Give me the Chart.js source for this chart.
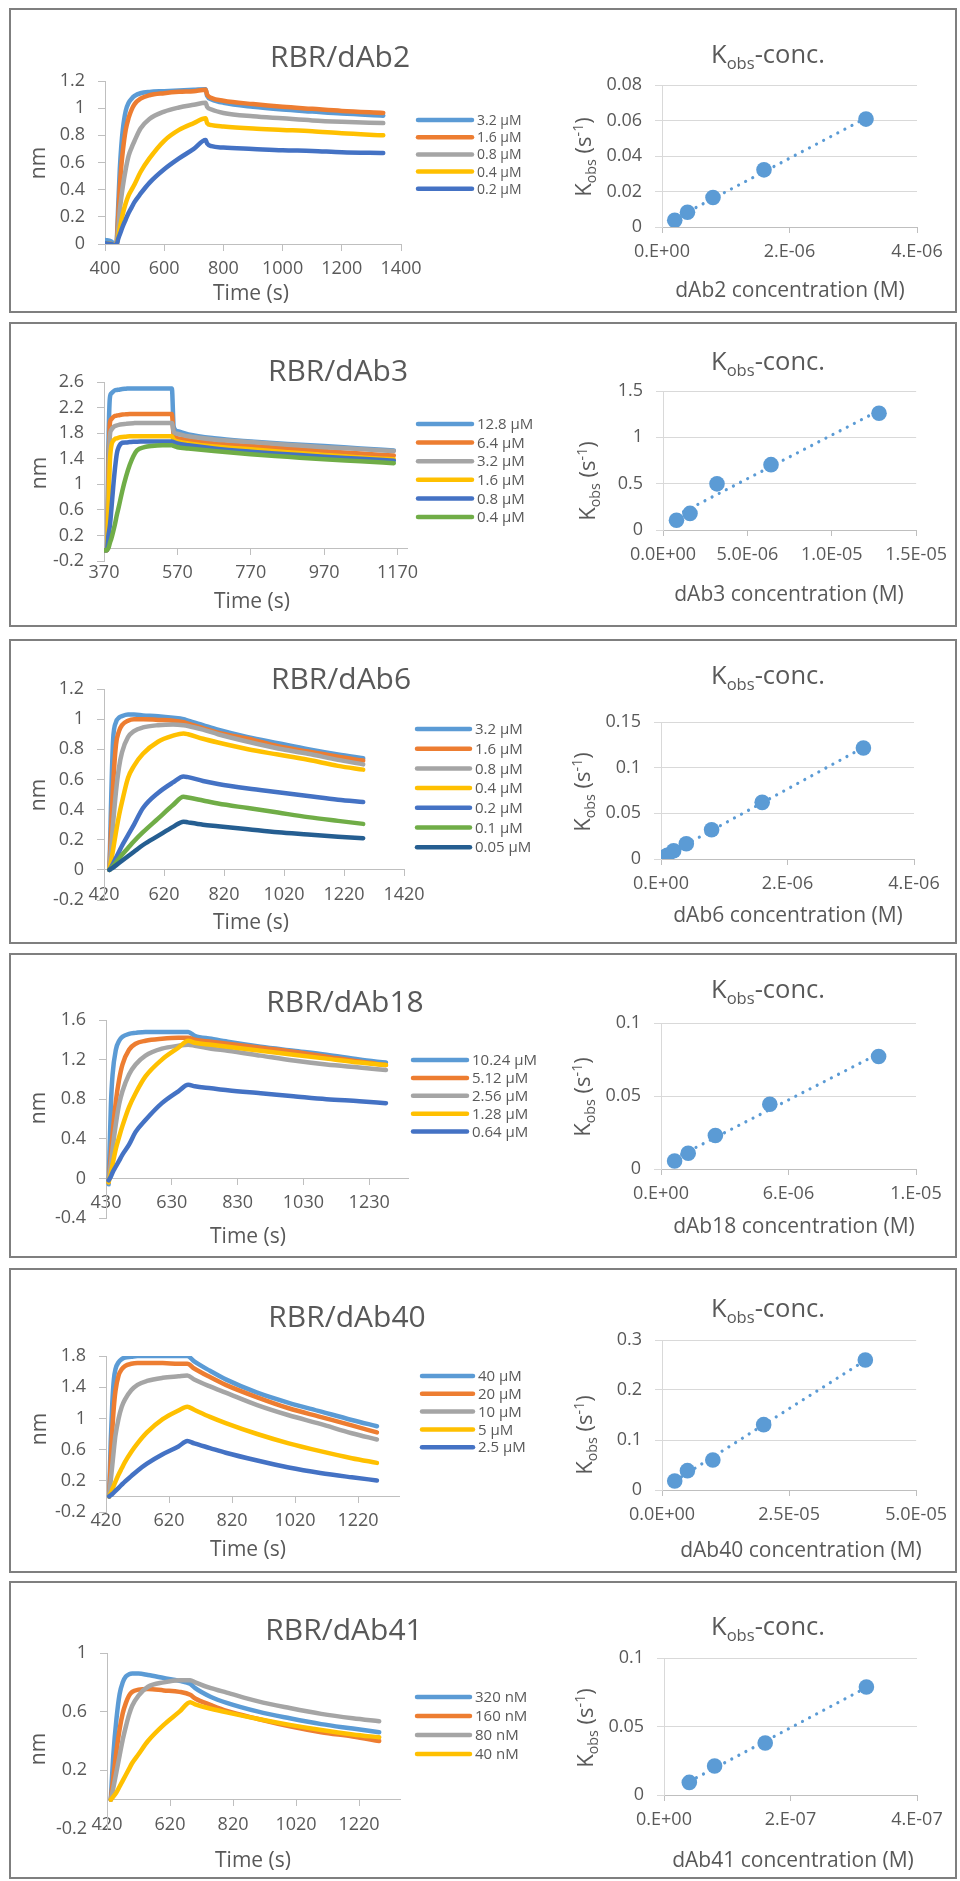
<!DOCTYPE html>
<html>
<head>
<meta charset="utf-8">
<script src="https://cdn.jsdelivr.net/npm/chart.js@4.4.1/dist/chart.umd.min.js"></script>
<style>
  body { margin: 0; background: #fff; }
  #fig { position: relative; width: 960px; height: 1881px; overflow: hidden; }
  .panel { position: absolute; left: 9px; width: 948px; border: 2px solid #7f7f7f; box-sizing: border-box; }
  canvas { position: absolute; }
</style>
</head>
<body>
<div id="fig"></div>
<script>
// ---- RBR/dAb2 ----
const dAb2Time = [400, 420, 438, 445, 450, 455, 460, 470, 480, 490, 500, 520, 550, 600, 650, 700, 740, 745, 760, 800, 900, 1000, 1100, 1200, 1340];
const dAb2_3p2 = [0.03, 0.02, -0.01, 0.3, 0.55, 0.72, 0.84, 0.98, 1.04, 1.07, 1.09, 1.11, 1.12, 1.125, 1.13, 1.135, 1.14, 1.09, 1.065, 1.04, 1.01, 0.99, 0.975, 0.96, 0.945];
const dAb2_1p6 = [0.005, 0, -0.01, 0.22, 0.42, 0.57, 0.68, 0.84, 0.93, 0.99, 1.03, 1.07, 1.095, 1.11, 1.12, 1.125, 1.135, 1.1, 1.075, 1.055, 1.03, 1.01, 0.995, 0.98, 0.965];
const dAb2_0p8 = [0.005, 0, -0.01, 0.12, 0.25, 0.34, 0.42, 0.55, 0.65, 0.71, 0.76, 0.85, 0.92, 0.975, 1.005, 1.025, 1.04, 1.01, 0.99, 0.965, 0.94, 0.925, 0.91, 0.9, 0.89];
const dAb2_0p4 = [0.005, 0, -0.01, 0.06, 0.12, 0.17, 0.22, 0.3, 0.36, 0.4, 0.44, 0.53, 0.63, 0.76, 0.84, 0.89, 0.925, 0.89, 0.875, 0.865, 0.85, 0.84, 0.83, 0.815, 0.8];
const dAb2_0p2 = [0.005, 0, -0.01, 0.04, 0.07, 0.1, 0.13, 0.18, 0.23, 0.27, 0.31, 0.37, 0.45, 0.55, 0.63, 0.7, 0.765, 0.74, 0.72, 0.71, 0.7, 0.69, 0.685, 0.675, 0.67];
const dAb2Labels = ['3.2 μM', '1.6 μM', '0.8 μM', '0.4 μM', '0.2 μM'];
const dAb2TimeTicks = [400, 600, 800, 1000, 1200, 1400];
const dAb2NmTicks = [0, 0.2, 0.4, 0.6, 0.8, 1, 1.2];
const dAb2Conc = [2e-7, 4e-7, 8e-7, 1.6e-6, 3.2e-6];
const dAb2Kobs = [0.0038, 0.0083, 0.0166, 0.0322, 0.0608];
const dAb2ConcTicks = [0, 2e-6, 4e-6];
const dAb2ConcLabels = ['0.E+00', '2.E-06', '4.E-06'];
const dAb2KobsTicks = [0, 0.02, 0.04, 0.06, 0.08];

// ---- RBR/dAb3 ----
const dAb3Time = [370, 378, 382, 386, 390, 395, 400, 405, 410, 420, 430, 440, 450, 460, 480, 500, 530, 555, 560, 570, 600, 670, 770, 870, 970, 1070, 1160];
const dAb3_12p8 = [-0.03, -0.03, 1.6, 2.35, 2.42, 2.45, 2.47, 2.475, 2.48, 2.49, 2.495, 2.5, 2.5, 2.5, 2.5, 2.5, 2.5, 2.5, 1.9, 1.83, 1.78, 1.72, 1.67, 1.63, 1.6, 1.56, 1.53];
const dAb3_6p4 = [-0.03, -0.03, 1.2, 1.95, 2.02, 2.05, 2.07, 2.075, 2.08, 2.09, 2.095, 2.1, 2.1, 2.1, 2.1, 2.1, 2.1, 2.1, 1.76, 1.72, 1.69, 1.64, 1.6, 1.56, 1.52, 1.48, 1.45];
const dAb3_3p2 = [-0.03, -0.03, 0.9, 1.75, 1.85, 1.89, 1.91, 1.92, 1.93, 1.94, 1.945, 1.95, 1.955, 1.96, 1.96, 1.96, 1.96, 1.96, 1.82, 1.79, 1.75, 1.7, 1.66, 1.62, 1.58, 1.55, 1.52];
const dAb3_1p6 = [-0.03, -0.03, 0.6, 1.35, 1.6, 1.68, 1.71, 1.72, 1.73, 1.74, 1.745, 1.75, 1.75, 1.75, 1.75, 1.75, 1.75, 1.75, 1.7, 1.67, 1.64, 1.59, 1.55, 1.5, 1.46, 1.42, 1.39];
const dAb3_0p8 = [-0.03, -0.03, 0.2, 0.35, 0.6, 0.95, 1.25, 1.48, 1.58, 1.65, 1.655, 1.66, 1.665, 1.665, 1.67, 1.67, 1.67, 1.67, 1.66, 1.64, 1.61, 1.56, 1.51, 1.47, 1.43, 1.4, 1.37];
const dAb3_0p4 = [-0.03, -0.03, 0, 0.08, 0.15, 0.26, 0.38, 0.52, 0.64, 0.9, 1.12, 1.3, 1.44, 1.53, 1.58, 1.6, 1.61, 1.61, 1.6, 1.58, 1.56, 1.52, 1.47, 1.43, 1.39, 1.36, 1.33];
const dAb3Labels = ['12.8 μM', '6.4 μM', '3.2 μM', '1.6 μM', '0.8 μM', '0.4 μM'];
const dAb3TimeTicks = [370, 570, 770, 970, 1170];
const dAb3NmTicks = [-0.2, 0.2, 0.6, 1, 1.4, 1.8, 2.2, 2.6];
const dAb3Conc = [8e-7, 1.6e-6, 3.2e-6, 6.4e-6, 1.28e-5];
const dAb3Kobs = [0.105, 0.179, 0.498, 0.705, 1.26];
const dAb3ConcTicks = [0, 5e-6, 1e-5, 1.5e-5];
const dAb3ConcLabels = ['0.0E+00', '5.0E-06', '1.0E-05', '1.5E-05'];
const dAb3KobsTicks = [0, 0.5, 1, 1.5];

// ---- RBR/dAb6 ----
const dAb6Time = [438, 450, 460, 470, 480, 500, 520, 550, 600, 650, 685, 700, 750, 800, 900, 1000, 1100, 1200, 1284];
const dAb6_3p2 = [0, 0.85, 0.98, 1.01, 1.02, 1.03, 1.03, 1.025, 1.02, 1.01, 1.0, 0.99, 0.96, 0.93, 0.88, 0.84, 0.8, 0.765, 0.74];
const dAb6_1p6 = [0, 0.55, 0.83, 0.92, 0.96, 0.99, 1.0, 1.0, 0.995, 0.99, 0.98, 0.97, 0.94, 0.91, 0.87, 0.82, 0.785, 0.75, 0.725];
const dAb6_0p8 = [0, 0.3, 0.52, 0.68, 0.78, 0.88, 0.92, 0.945, 0.96, 0.965, 0.96, 0.955, 0.93, 0.9, 0.85, 0.805, 0.77, 0.73, 0.7];
const dAb6_0p4 = [0, 0.13, 0.25, 0.36, 0.45, 0.61, 0.69, 0.77, 0.85, 0.89, 0.905, 0.9, 0.87, 0.845, 0.8, 0.765, 0.73, 0.69, 0.665];
const dAb6_0p2 = [0, 0.04, 0.08, 0.12, 0.16, 0.23, 0.3, 0.41, 0.51, 0.58, 0.62, 0.615, 0.59, 0.57, 0.54, 0.515, 0.49, 0.465, 0.45];
const dAb6_0p1 = [0, 0.025, 0.05, 0.075, 0.1, 0.145, 0.19, 0.25, 0.34, 0.43, 0.485, 0.48, 0.46, 0.44, 0.41, 0.38, 0.35, 0.325, 0.305];
const dAb6_0p05 = [0, 0.015, 0.03, 0.045, 0.06, 0.09, 0.12, 0.165, 0.225, 0.285, 0.32, 0.315, 0.3, 0.29, 0.27, 0.25, 0.235, 0.22, 0.21];
const dAb6Labels = ['3.2 μM', '1.6 μM', '0.8 μM', '0.4 μM', '0.2 μM', '0.1 μM', '0.05 μM'];
const dAb6TimeTicks = [420, 620, 820, 1020, 1220, 1420];
const dAb6NmTicks = [-0.2, 0, 0.2, 0.4, 0.6, 0.8, 1, 1.2];
const dAb6Conc = [5e-8, 1e-7, 2e-7, 4e-7, 8e-7, 1.6e-6, 3.2e-6];
const dAb6Kobs = [0.002, 0.004, 0.009, 0.0167, 0.032, 0.062, 0.1216];
const dAb6ConcTicks = [0, 2e-6, 4e-6];
const dAb6ConcLabels = ['0.E+00', '2.E-06', '4.E-06'];
const dAb6KobsTicks = [0, 0.05, 0.1, 0.15];

// ---- RBR/dAb18 ----
const dAb18Time = [438, 445, 450, 460, 470, 480, 500, 520, 550, 600, 650, 680, 700, 750, 800, 900, 1000, 1100, 1200, 1281];
const dAb18_10p24 = [-0.06, 0.75, 1.05, 1.3, 1.39, 1.43, 1.46, 1.47, 1.48, 1.48, 1.48, 1.48, 1.44, 1.41, 1.38, 1.33, 1.29, 1.25, 1.2, 1.17];
const dAb18_5p12 = [-0.04, 0.25, 0.45, 0.78, 1.0, 1.15, 1.3, 1.36, 1.39, 1.41, 1.42, 1.42, 1.4, 1.38, 1.36, 1.32, 1.28, 1.23, 1.18, 1.145];
const dAb18_2p56 = [-0.03, 0.15, 0.3, 0.55, 0.75, 0.88, 1.05, 1.15, 1.24, 1.31, 1.34, 1.35, 1.34, 1.31, 1.29, 1.24, 1.19, 1.15, 1.12, 1.095];
const dAb18_1p28 = [-0.04, 0.06, 0.14, 0.3, 0.42, 0.53, 0.72, 0.86, 1.03, 1.2, 1.32, 1.39, 1.37, 1.35, 1.33, 1.29, 1.25, 1.21, 1.17, 1.145];
const dAb18_0p64 = [-0.02, 0.02, 0.06, 0.12, 0.18, 0.24, 0.34, 0.47, 0.59, 0.76, 0.88, 0.945, 0.93, 0.91, 0.89, 0.86, 0.83, 0.8, 0.78, 0.76];
const dAb18Labels = ['10.24 μM', '5.12 μM', '2.56 μM', '1.28 μM', '0.64 μM'];
const dAb18TimeTicks = [430, 630, 830, 1030, 1230];
const dAb18NmTicks = [-0.4, 0, 0.4, 0.8, 1.2, 1.6];
const dAb18Conc = [6.4e-7, 1.28e-6, 2.56e-6, 5.12e-6, 1.024e-5];
const dAb18Kobs = [0.0055, 0.0108, 0.0229, 0.0444, 0.0771];
const dAb18ConcTicks = [0, 6e-6, 1.2e-5];
const dAb18ConcLabels = ['0.E+00', '6.E-06', '1.E-05'];
const dAb18KobsTicks = [0, 0.05, 0.1];

// ---- RBR/dAb40 ----
const dAb40Time = [430, 435, 440, 445, 450, 460, 470, 480, 500, 520, 550, 600, 650, 678, 700, 750, 800, 900, 1000, 1100, 1200, 1280];
const dAb40_40 = [0, 0.7, 1.2, 1.5, 1.63, 1.72, 1.76, 1.78, 1.79, 1.8, 1.8, 1.8, 1.8, 1.8, 1.73, 1.61, 1.5, 1.33, 1.2, 1.09, 0.98, 0.9];
const dAb40_20 = [0, 0.45, 0.85, 1.15, 1.35, 1.55, 1.63, 1.67, 1.7, 1.71, 1.71, 1.71, 1.7, 1.7, 1.64, 1.53, 1.43, 1.27, 1.13, 1.02, 0.91, 0.82];
const dAb40_10 = [0, 0.2, 0.4, 0.6, 0.78, 1.0, 1.15, 1.24, 1.36, 1.43, 1.48, 1.52, 1.54, 1.55, 1.5, 1.41, 1.33, 1.17, 1.04, 0.93, 0.81, 0.73];
const dAb40_5 = [0, 0.04, 0.09, 0.14, 0.19, 0.28, 0.36, 0.44, 0.57, 0.68, 0.82, 0.99, 1.1, 1.15, 1.11, 1.02, 0.94, 0.8, 0.68, 0.58, 0.49, 0.43];
const dAb40_2p5 = [0, 0.015, 0.03, 0.05, 0.07, 0.11, 0.15, 0.19, 0.26, 0.33, 0.42, 0.54, 0.64, 0.71, 0.68, 0.62, 0.56, 0.46, 0.37, 0.3, 0.245, 0.205];
const dAb40Labels = ['40 μM', '20 μM', '10 μM', '5 μM', '2.5 μM'];
const dAb40TimeTicks = [420, 620, 820, 1020, 1220];
const dAb40NmTicks = [-0.2, 0.2, 0.6, 1, 1.4, 1.8];
const dAb40Conc = [2.5e-6, 5e-6, 1e-5, 2e-5, 4e-5];
const dAb40Kobs = [0.018, 0.0387, 0.06, 0.1307, 0.26];
const dAb40ConcTicks = [0, 2.5e-5, 5e-5];
const dAb40ConcLabels = ['0.0E+00', '2.5E-05', '5.0E-05'];
const dAb40KobsTicks = [0, 0.1, 0.2, 0.3];

// ---- RBR/dAb41 ----
const dAb41Time = [432, 440, 450, 460, 470, 480, 490, 500, 520, 550, 600, 650, 684, 700, 750, 800, 900, 1000, 1100, 1200, 1284];
const dAb41_320 = [0, 0.3, 0.55, 0.72, 0.8, 0.84, 0.855, 0.86, 0.86, 0.85, 0.83, 0.81, 0.79, 0.76, 0.7, 0.66, 0.6, 0.555, 0.515, 0.485, 0.46];
const dAb41_160 = [0, 0.15, 0.33, 0.48, 0.59, 0.66, 0.71, 0.735, 0.75, 0.755, 0.745, 0.735, 0.715, 0.69, 0.645, 0.605, 0.55, 0.5, 0.46, 0.43, 0.4];
const dAb41_80 = [0, 0.08, 0.19, 0.3, 0.41, 0.5, 0.58, 0.64, 0.71, 0.77, 0.8, 0.815, 0.815, 0.8, 0.76, 0.73, 0.67, 0.625, 0.585, 0.555, 0.535];
const dAb41_40 = [0, 0.02, 0.05, 0.09, 0.13, 0.17, 0.21, 0.25, 0.31, 0.4, 0.51, 0.6, 0.665, 0.65, 0.62, 0.595, 0.55, 0.51, 0.475, 0.445, 0.425];
const dAb41Labels = ['320 nM', '160 nM', '80 nM', '40 nM'];
const dAb41TimeTicks = [420, 620, 820, 1020, 1220];
const dAb41NmTicks = [-0.2, 0.2, 0.6, 1];
const dAb41Conc = [4e-8, 8e-8, 1.6e-7, 3.2e-7];
const dAb41Kobs = [0.0092, 0.0212, 0.038, 0.0788];
const dAb41ConcTicks = [0, 2e-7, 4e-7];
const dAb41ConcLabels = ['0.E+00', '2.E-07', '4.E-07'];
const dAb41KobsTicks = [0, 0.05, 0.1];

const panels = [
  { name: 'dAb2', time: dAb2Time, series: [dAb2_3p2, dAb2_1p6, dAb2_0p8, dAb2_0p4, dAb2_0p2], labels: dAb2Labels,
    xTicks: dAb2TimeTicks, yTicks: dAb2NmTicks, conc: dAb2Conc, kobs: dAb2Kobs, kx: dAb2ConcTicks, kxLabels: dAb2ConcLabels, ky: dAb2KobsTicks },
  { name: 'dAb3', time: dAb3Time, series: [dAb3_12p8, dAb3_6p4, dAb3_3p2, dAb3_1p6, dAb3_0p8, dAb3_0p4], labels: dAb3Labels,
    xTicks: dAb3TimeTicks, yTicks: dAb3NmTicks, conc: dAb3Conc, kobs: dAb3Kobs, kx: dAb3ConcTicks, kxLabels: dAb3ConcLabels, ky: dAb3KobsTicks },
  { name: 'dAb6', time: dAb6Time, series: [dAb6_3p2, dAb6_1p6, dAb6_0p8, dAb6_0p4, dAb6_0p2, dAb6_0p1, dAb6_0p05], labels: dAb6Labels,
    xTicks: dAb6TimeTicks, yTicks: dAb6NmTicks, conc: dAb6Conc, kobs: dAb6Kobs, kx: dAb6ConcTicks, kxLabels: dAb6ConcLabels, ky: dAb6KobsTicks },
  { name: 'dAb18', time: dAb18Time, series: [dAb18_10p24, dAb18_5p12, dAb18_2p56, dAb18_1p28, dAb18_0p64], labels: dAb18Labels,
    xTicks: dAb18TimeTicks, yTicks: dAb18NmTicks, conc: dAb18Conc, kobs: dAb18Kobs, kx: dAb18ConcTicks, kxLabels: dAb18ConcLabels, ky: dAb18KobsTicks },
  { name: 'dAb40', time: dAb40Time, series: [dAb40_40, dAb40_20, dAb40_10, dAb40_5, dAb40_2p5], labels: dAb40Labels,
    xTicks: dAb40TimeTicks, yTicks: dAb40NmTicks, conc: dAb40Conc, kobs: dAb40Kobs, kx: dAb40ConcTicks, kxLabels: dAb40ConcLabels, ky: dAb40KobsTicks },
  { name: 'dAb41', time: dAb41Time, series: [dAb41_320, dAb41_160, dAb41_80, dAb41_40], labels: dAb41Labels,
    xTicks: dAb41TimeTicks, yTicks: dAb41NmTicks, conc: dAb41Conc, kobs: dAb41Kobs, kx: dAb41ConcTicks, kxLabels: dAb41ConcLabels, ky: dAb41KobsTicks }
];

// layout (page pixels)
const boxTop = [8, 322, 639, 953, 1268, 1581];
const boxH = [305, 305, 305, 305, 305, 298];
const leftArea = [[105, 401, 81, 244], [104, 407, 382, 561], [104, 404, 689, 900], [106, 408, 1020, 1218], [106, 399, 1356, 1512], [107, 400, 1653, 1829]];
const leftXMax = [1400, 1196, 1420, 1348, 1350, 1350];
const rightArea = [[662, 917, 85, 227], [663, 917, 391, 530], [661, 914, 722, 859], [661, 916, 1023, 1169], [662, 917, 1340, 1490], [664, 917, 1658, 1795]];
const titlePos = [[340, 67], [338, 381], [341, 689], [345, 1012], [347, 1327], [344, 1640]];
const nmPos = [[45, 163], [46, 473], [45, 795], [45, 1108], [46, 1429], [45, 1749]];
const timePos = [[251, 300], [252, 608], [251, 929], [248, 1243], [248, 1556], [253, 1867]];
const legendPos = [[418, 472, 120, 17.2, 14], [418, 472, 424, 18.6, 15], [417, 470, 729, 19.7, 15], [413, 467, 1060, 17.9, 15], [422, 473, 1376, 17.8, 15], [417, 470, 1697, 19, 15]];
const kTitleY = [63, 370, 684, 998, 1317, 1635];
const kyPos = [[591, 157], [595, 481], [590, 792], [590, 1097], [592, 1435], [593, 1728]];
const kxPos = [[790, 297], [789, 601], [788, 922], [794, 1233], [801, 1557], [793, 1867]];

const colors = ['#5b9bd5', '#ed7d31', '#a5a5a5', '#ffc000', '#4472c4', '#70ad47', '#255e91'];
const textColor = '#595959';
const fontFam = "'Open Sans', sans-serif";

Chart.defaults.font.family = fontFam;
Chart.defaults.color = textColor;

const fig = document.getElementById('fig');

function addCanvas(x, y, w, h) {
  const c = document.createElement('canvas');
  c.width = w; c.height = h;
  c.style.left = x + 'px'; c.style.top = y + 'px';
  c.style.width = w + 'px'; c.style.height = h + 'px';
  fig.appendChild(c);
  return c;
}

function drawParts(ctx, parts, x, y, size, rot) {
  ctx.save();
  ctx.translate(x, y);
  if (rot) ctx.rotate(-Math.PI / 2);
  ctx.textAlign = 'left';
  ctx.textBaseline = 'alphabetic';
  const spans = parts.map(p => {
    const s = (p.sub || p.sup) ? size * 0.65 : size;
    ctx.font = s + 'px ' + fontFam;
    return { p, s, w: ctx.measureText(p.t).width };
  });
  let cx = -spans.reduce((a, b) => a + b.w, 0) / 2;
  spans.forEach(({ p, s, w }) => {
    ctx.font = s + 'px ' + fontFam;
    const dy = p.sub ? size * 0.24 : p.sup ? -size * 0.38 : 0;
    ctx.fillText(p.t, cx, dy);
    cx += w;
  });
  ctx.restore();
}

// titles, axis titles and legend drawn on top of each chart
function decor(ox, oy, texts, legend) {
  return {
    id: 'decor',
    afterDraw(chart) {
      const ctx = chart.ctx;
      ctx.save();
      ctx.fillStyle = textColor;
      texts.forEach(t => drawParts(ctx, t.parts, t.x - ox, t.y - oy, t.size, t.rot));
      if (legend) {
        const [x0, x1, y0, gap, size] = legend;
        chart.data.datasets.forEach((ds, k) => {
          const y = y0 + k * gap - oy;
          ctx.strokeStyle = ds.borderColor;
          ctx.lineWidth = 4.5;
          ctx.lineCap = 'round';
          ctx.beginPath();
          ctx.moveTo(x0 - ox, y);
          ctx.lineTo(x1 - ox, y);
          ctx.stroke();
          ctx.font = size + 'px ' + fontFam;
          ctx.textAlign = 'left';
          ctx.textBaseline = 'middle';
          ctx.fillStyle = textColor;
          ctx.fillText(ds.label, x1 + 5 - ox, y + 1);
        });
      }
      ctx.restore();
    }
  };
}

function linFit(xs, ys) {
  const n = xs.length;
  const mx = xs.reduce((a, b) => a + b, 0) / n;
  const my = ys.reduce((a, b) => a + b, 0) / n;
  let sxy = 0, sxx = 0;
  xs.forEach((x, i) => { sxy += (x - mx) * (ys[i] - my); sxx += (x - mx) * (x - mx); });
  const slope = sxy / sxx;
  return [my - slope * mx, slope];
}

function sensorgram(p, i) {
  const cx = 11, cy = boxTop[i] + 2, cw = 529, ch = boxH[i] - 4;
  const yW = 60;
  const a = leftArea[i];
  const texts = [
    { parts: [{ t: 'RBR/' + p.name }], x: titlePos[i][0], y: titlePos[i][1], size: 30 },
    { parts: [{ t: 'nm' }], x: nmPos[i][0], y: nmPos[i][1], size: 21, rot: true },
    { parts: [{ t: 'Time (s)' }], x: timePos[i][0], y: timePos[i][1], size: 21 }
  ];
  new Chart(addCanvas(cx, cy, cw, ch), {
    type: 'line',
    data: {
      datasets: p.series.map((vals, k) => ({
        label: p.labels[k],
        data: p.time.map((t, j) => ({ x: t, y: vals[j] })),
        borderColor: colors[k],
        backgroundColor: colors[k],
        borderWidth: 4.5,
        pointRadius: 0,
        cubicInterpolationMode: 'monotone',
        borderCapStyle: 'round',
        borderJoinStyle: 'round',
        order: -k
      }))
    },
    options: {
      responsive: false,
      animation: false,
      layout: { padding: { left: a[0] - cx - yW, right: cx + cw - a[1], top: a[2] - cy, bottom: cy + ch - a[3] } },
      scales: {
        x: {
          type: 'linear',
          position: { y: 0 },
          min: p.xTicks[0],
          max: leftXMax[i],
          afterBuildTicks: s => { s.ticks = p.xTicks.map(v => ({ value: v })); },
          ticks: { autoSkip: false, maxRotation: 0, padding: 8, font: { size: 18 }, callback: v => String(v) },
          grid: { drawOnChartArea: false, tickLength: 6, color: '#bfbfbf' },
          border: { color: '#bfbfbf' }
        },
        y: {
          min: p.yTicks[0],
          max: p.yTicks[p.yTicks.length - 1],
          afterBuildTicks: s => { s.ticks = p.yTicks.map(v => ({ value: v })); },
          afterFit: s => { s.width = yW; },
          ticks: { autoSkip: false, padding: 13, font: { size: 18 }, callback: v => String(v) },
          grid: { drawOnChartArea: false, tickLength: 7, color: '#bfbfbf' },
          border: { color: '#bfbfbf' }
        }
      },
      plugins: { legend: { display: false }, tooltip: { enabled: false } }
    },
    plugins: [decor(cx, cy, texts, legendPos[i])]
  });
}

function kobsPlot(p, i) {
  const cx = 540, cy = boxTop[i] + 2, cw = 415, ch = boxH[i] - 4;
  const yW = 60, xH = 40;
  const a = rightArea[i];
  const [b0, b1] = linFit(p.conc, p.kobs);
  const ends = [p.conc[0], p.conc[p.conc.length - 1]];
  const texts = [
    { parts: [{ t: 'K' }, { t: 'obs', sub: 1 }, { t: '-conc.' }], x: 768, y: kTitleY[i], size: 25.5 },
    { parts: [{ t: 'K' }, { t: 'obs', sub: 1 }, { t: ' (s' }, { t: '-1', sup: 1 }, { t: ')' }], x: kyPos[i][0], y: kyPos[i][1], size: 22, rot: true },
    { parts: [{ t: p.name + ' concentration (M)' }], x: kxPos[i][0], y: kxPos[i][1], size: 21 }
  ];
  new Chart(addCanvas(cx, cy, cw, ch), {
    type: 'scatter',
    data: {
      datasets: [
        {
          data: p.conc.map((c, k) => ({ x: c, y: p.kobs[k] })),
          pointRadius: 7.8,
          pointBorderWidth: 0,
          backgroundColor: '#5b9bd5',
          borderColor: '#5b9bd5'
        },
        {
          data: ends.map(c => ({ x: c, y: b0 + b1 * c })),
          showLine: true,
          pointRadius: 0,
          borderColor: '#5b9bd5',
          borderWidth: 3.2,
          borderDash: [0.01, 8],
          borderCapStyle: 'round'
        }
      ]
    },
    options: {
      responsive: false,
      animation: false,
      layout: { padding: { left: a[0] - cx - yW, right: cx + cw - a[1], top: a[2] - cy, bottom: cy + ch - a[3] - xH } },
      scales: {
        x: {
          type: 'linear',
          position: 'bottom',
          min: 0,
          max: p.kx[p.kx.length - 1],
          afterBuildTicks: s => { s.ticks = p.kx.map(v => ({ value: v })); },
          afterFit: s => { s.height = xH; },
          ticks: { autoSkip: false, maxRotation: 0, padding: 8, font: { size: 18 }, callback: (v, k) => p.kxLabels[k] },
          grid: { drawOnChartArea: false, tickLength: 6, color: '#bfbfbf' },
          border: { color: '#bfbfbf' }
        },
        y: {
          min: 0,
          max: p.ky[p.ky.length - 1],
          afterBuildTicks: s => { s.ticks = p.ky.map(v => ({ value: v })); },
          afterFit: s => { s.width = yW; },
          ticks: { autoSkip: false, padding: 13, font: { size: 18 }, callback: v => String(v) },
          grid: { color: '#d9d9d9', tickLength: 7 },
          border: { color: '#d9d9d9' }
        }
      },
      plugins: { legend: { display: false }, tooltip: { enabled: false } }
    },
    plugins: [decor(cx, cy, texts, null)]
  });
}

panels.forEach((p, i) => {
  const box = document.createElement('div');
  box.className = 'panel';
  box.style.top = boxTop[i] + 'px';
  box.style.height = boxH[i] + 'px';
  fig.appendChild(box);
  sensorgram(p, i);
  kobsPlot(p, i);
});
</script>
</body>
</html>
